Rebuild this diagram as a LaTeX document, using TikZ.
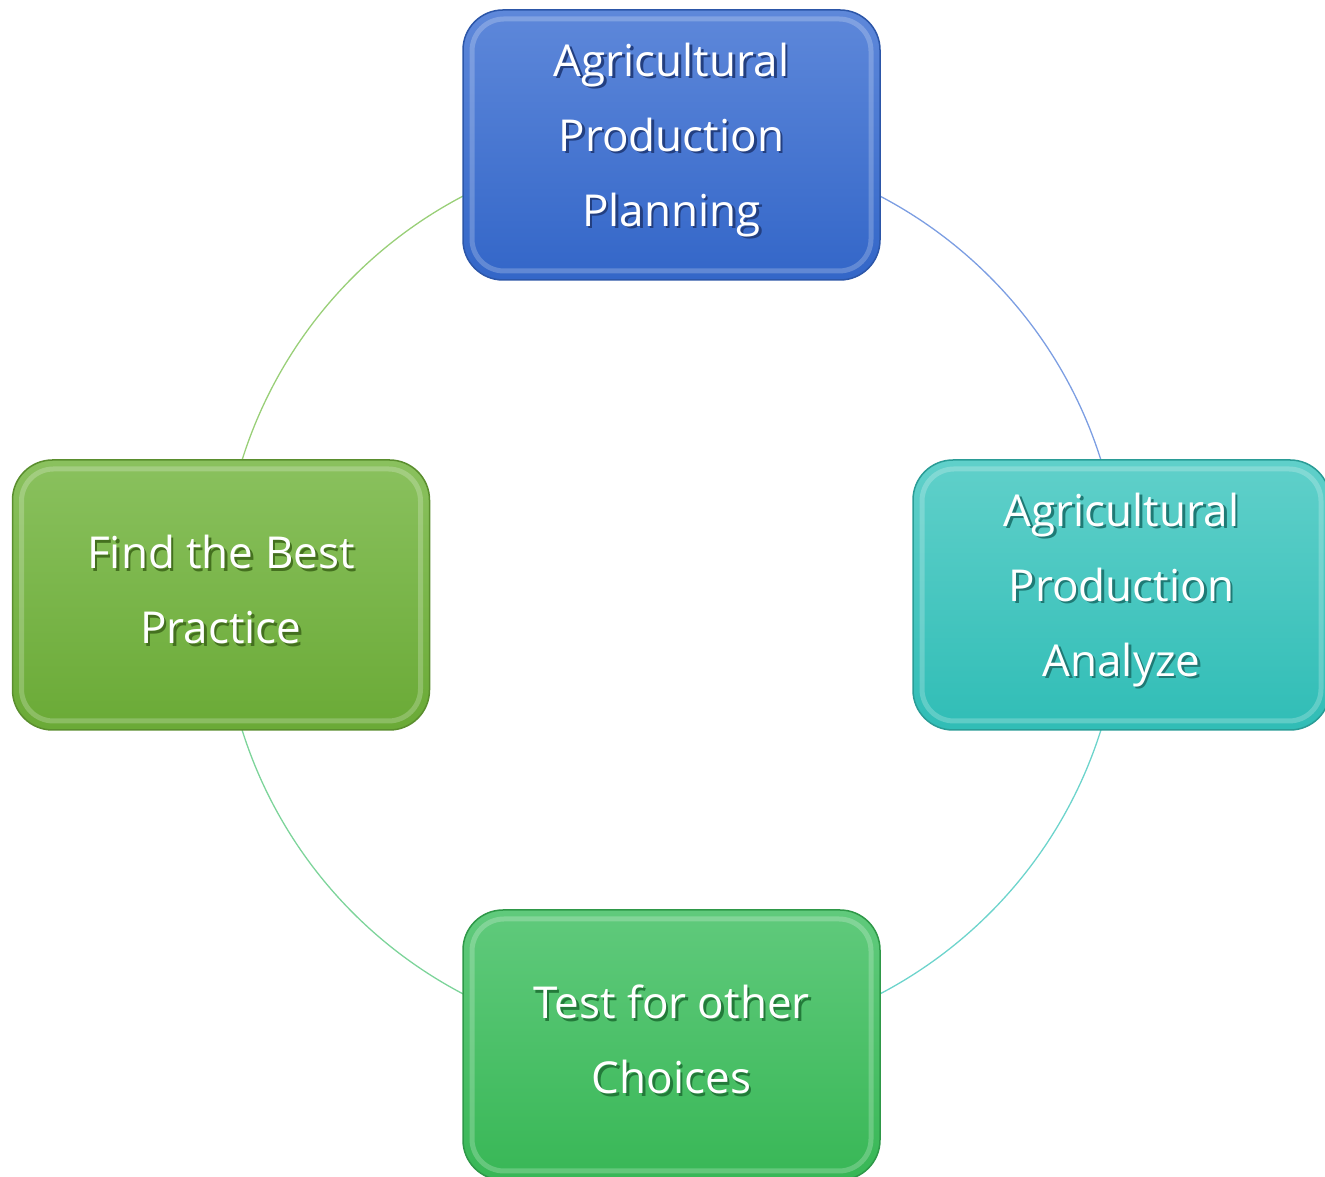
\documentclass[tikz,border=0pt]{standalone}
\usepackage{fontspec}
\setmainfont{Open Sans}
\usetikzlibrary{calc}
\definecolor{bluetop}{HTML}{5E88DA}
\definecolor{bluebot}{HTML}{3366C8}
\definecolor{blueline}{HTML}{2C56A8}
\definecolor{tealtop}{HTML}{60D0CA}
\definecolor{tealbot}{HTML}{30BDB6}
\definecolor{tealline}{HTML}{2A9C96}
\definecolor{lgtop}{HTML}{8AC15E}
\definecolor{lgbot}{HTML}{6AAA36}
\definecolor{lgline}{HTML}{5A8E2E}
\definecolor{gtop}{HTML}{60CA7C}
\definecolor{gbot}{HTML}{38B756}
\definecolor{gline}{HTML}{2E9848}
\definecolor{arcblue}{HTML}{7C9EE2}
\definecolor{arcteal}{HTML}{6DD4CC}
\definecolor{arcgreen}{HTML}{7DD49A}
\definecolor{arclgreen}{HTML}{99CF78}
\definecolor{blueshadow}{HTML}{233F80}
\definecolor{tealshadow}{HTML}{1F7A75}
\definecolor{lgshadow}{HTML}{44701F}
\definecolor{gshadow}{HTML}{237A3A}
\newcommand\shtext[1]{\makebox[0pt][l]{\hspace{2.5pt}\raisebox{-2.5pt}{\textcolor{\shc}{#1}}}#1}
\def\shc{black}
\tikzset{
  stepbox/.style={rectangle, rounded corners=40pt, minimum width=417pt, minimum height=270pt, line width=1.5pt, inner sep=0pt},
  bevel/.style={rectangle, rounded corners=32pt, minimum width=399pt, minimum height=252pt, draw=white, draw opacity=0.22, line width=5pt, inner sep=0pt},
  txt/.style={text=white, font=\fontsize{44}{75}\selectfont\def\shc{#1}, align=center},
  ringarc/.style={line width=1.3pt}
}
\begin{document}
\begin{tikzpicture}[x=1pt,y=1pt]
\useasboundingbox (0,0) rectangle (1325,1177);
\clip (0,0) rectangle (1325,1177);
\coordinate (c) at (671.5,582);
% ring arcs
\draw[ringarc, arcblue] (c) ++(90:450) arc (90:0:450);
\draw[ringarc, arcteal] (c) ++(0:450) arc (0:-90:450);
\draw[ringarc, arcgreen] (c) ++(-90:450) arc (-90:-180:450);
\draw[ringarc, arclgreen] (c) ++(180:450) arc (180:90:450);
% boxes
\node[stepbox, top color=bluetop, bottom color=bluebot, draw=blueline] (top) at (671.5,1032) {};
\node[bevel] at (top) {};
\node[stepbox, top color=tealtop, bottom color=tealbot, draw=tealline] (right) at (1121.5,582) {};
\node[bevel] at (right) {};
\node[stepbox, top color=gtop, bottom color=gbot, draw=gline] (bottom) at (671.5,132) {};
\node[bevel] at (bottom) {};
\node[stepbox, top color=lgtop, bottom color=lgbot, draw=lgline] (left) at (221,582) {};
\node[bevel] at (left) {};
% texts
\node[txt=blueshadow] at ($(top)+(0,4)$) {\shtext{Agricultural}\\\shtext{Production}\\\shtext{Planning}};
\node[txt=tealshadow] at ($(right)+(0,4)$) {\shtext{Agricultural}\\\shtext{Production}\\\shtext{Analyze}};
\node[txt=gshadow] at ($(bottom)+(0,4)$) {\shtext{Test for other}\\\shtext{Choices}};
\node[txt=lgshadow] at ($(left)+(0,4)$) {\shtext{Find the Best}\\\shtext{Practice}};
\end{tikzpicture}
\end{document}
